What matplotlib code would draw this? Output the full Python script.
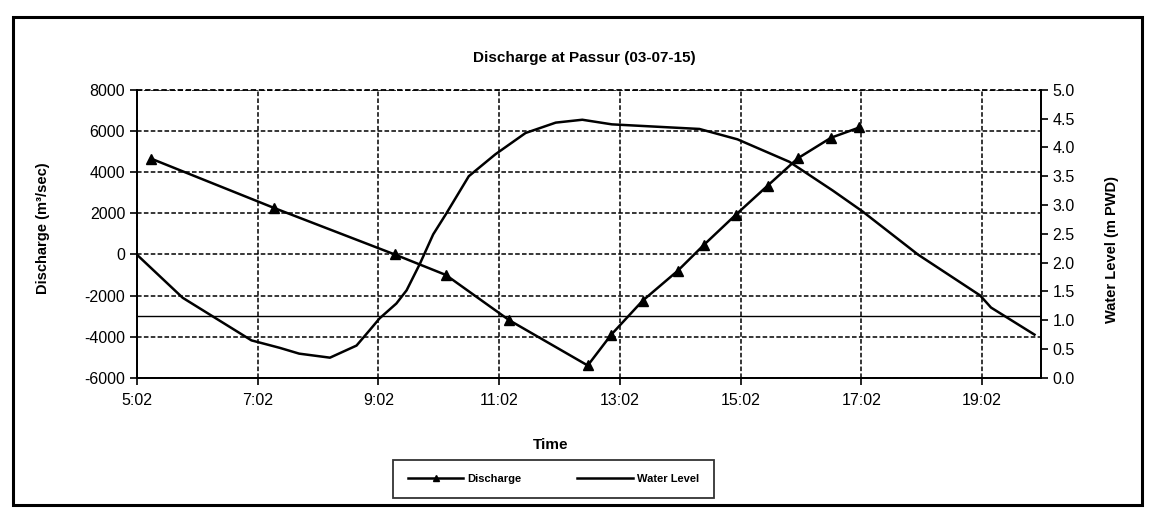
import matplotlib
matplotlib.use("Agg")
import matplotlib.pyplot as plt
from matplotlib.patches import Rectangle

plt.rcParams['font.family'] = ['Liberation Sans', 'DejaVu Sans']
plt.rcParams['axes.unicode_minus'] = False

# discharge readings (time in decimal hours, m3/sec)
dis_time = [5.27, 7.31, 9.30, 10.15, 11.20, 12.50, 12.89, 13.41, 13.99,
            14.42, 14.95, 15.48, 15.98, 16.53, 17.00]
discharge = [4650, 2250, 0, -1000, -3200, -5400, -3900, -2250, -800,
             450, 1920, 3340, 4670, 5670, 6170]

# water level readings (m PWD)
wl_time = [5.03, 5.79, 6.93, 7.40, 7.72, 8.23, 8.67, 8.89, 9.05, 9.33, 9.50,
           9.72, 9.94, 10.15, 10.53, 10.97, 11.47, 11.97, 12.41, 12.90,
           14.35, 14.98, 15.84, 16.56, 17.05, 17.97, 19.00, 19.18, 19.90]
water_level = [2.14, 1.39, 0.65, 0.52, 0.42, 0.35, 0.56, 0.83, 1.03, 1.29, 1.52,
               1.98, 2.49, 2.84, 3.50, 3.88, 4.25, 4.43, 4.48, 4.40,
               4.32, 4.14, 3.75, 3.25, 2.89, 2.14, 1.43, 1.22, 0.75]

x_ticks = [5 + 2/60 + 2*k for k in range(8)]
x_labels = ["5:02", "7:02", "9:02", "11:02", "13:02", "15:02", "17:02", "19:02"]
ref_level = -3000

fig = plt.figure(figsize=(11.51, 5.19), dpi=100)
ax = fig.add_axes([0.119, 0.272, 0.785, 0.555])
ax2 = ax.twinx()

# outer chart border
fig.patches.append(Rectangle((0.011, 0.027), 0.981, 0.94, transform=fig.transFigure,
                             fill=False, edgecolor='black', lw=2.2))

ax.set_xlim(5 + 2/60, 20.0)
ax.set_ylim(-6000, 8000)
ax.set_yticks(range(-6000, 8001, 2000))
ax.set_xticks(x_ticks)
ax.set_xticklabels(x_labels)
ax.grid(True, color='black', linestyle=(0, (3, 1.5)), lw=1.1)
ax.axhline(8000, color='black', linestyle=(0, (3, 1.5)), lw=1.3, clip_on=False)
ax.axhline(ref_level, color='black', lw=1.0)

l1, = ax.plot(dis_time, discharge, color='black', lw=1.8, marker='^',
              markersize=7, label='Discharge', zorder=4)

ax2.set_ylim(0, 5)
ax2.set_yticks([i * 0.5 for i in range(11)])
ax2.set_yticklabels(["%.1f" % (i * 0.5) for i in range(11)])
l2, = ax2.plot(wl_time, water_level, color='black', lw=1.8, label='Water Level')

for a in (ax, ax2):
    a.spines['top'].set_visible(False)
    for s in ('left', 'right', 'bottom'):
        a.spines[s].set_linewidth(1.3)
    a.tick_params(labelsize=11.5, length=5, width=1.2, colors='black')
ax.tick_params(axis='x', pad=6)

fig.text(0.508, 0.888, "Discharge at Passur (03-07-15)", ha='center', va='center',
         fontsize=11, fontweight='bold')
fig.text(0.037, 0.56, "Discharge (m³/sec)", rotation=90, ha='center', va='center',
         fontsize=10.5, fontweight='bold')
fig.text(0.966, 0.52, "Water Level (m PWD)", rotation=90, ha='center', va='center',
         fontsize=10.5, fontweight='bold')
fig.text(0.478, 0.143, "Time", ha='center', va='center', fontsize=11, fontweight='bold')

leg = fig.legend([l1, l2], ['Discharge', 'Water Level'], loc='center',
                 bbox_to_anchor=(0.481, 0.077), ncol=2, frameon=True, fancybox=False,
                 edgecolor='black', handlelength=5.0, columnspacing=5.0,
                 borderpad=1.3, borderaxespad=0, handletextpad=0.4,
                 prop={'size': 8, 'weight': 'bold'})
leg.get_frame().set_linewidth(1.3)
for h in leg.legend_handles:
    h.set_markersize(5)

fig.savefig("out.png", dpi=100)
